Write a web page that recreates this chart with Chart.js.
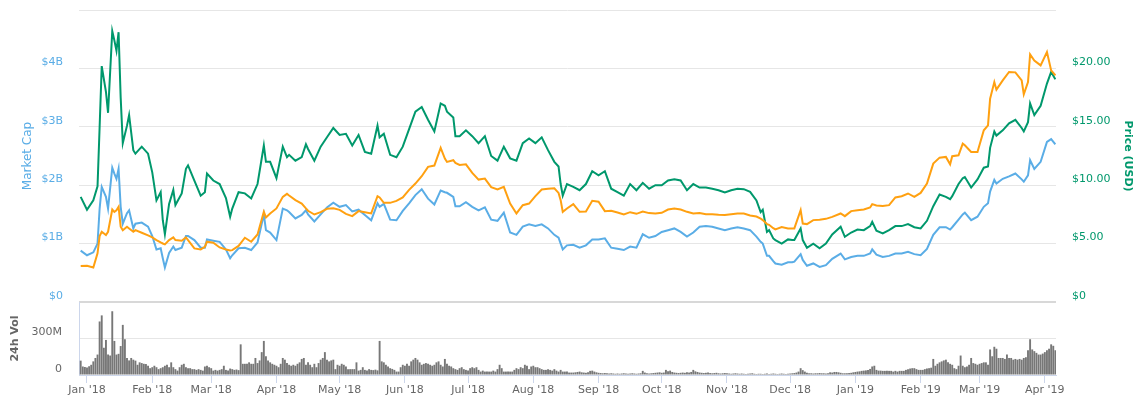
<!DOCTYPE html>
<html><head><meta charset="utf-8">
<script src="https://cdn.jsdelivr.net/npm/chart.js@4.4.1/dist/chart.umd.min.js"></script>
<style>
html,body{margin:0;padding:0;background:#fff;width:1142px;height:405px;overflow:hidden;}
#top{position:absolute;left:0;top:0;}
#vol{position:absolute;left:0;top:292px;}
</style></head><body>
<canvas id="top" width="1142" height="310"></canvas>
<canvas id="vol" width="1142" height="113"></canvas>
<script>
// Day 0 = 1 Jan 2018
const monthLabels = ["Jan '18","Feb '18","Mar '18","Apr '18","May '18","Jun '18","Jul '18","Aug '18","Sep '18","Oct '18","Nov '18","Dec '18","Jan '19","Feb '19","Mar '19","Apr '19"];

const days = [-3,0,3,5,6,7,9,10,12,13,14,15,16,17,19,20,22,23,26,29,31,33,35,36,37,39,41,42,45,47,48,51,54,56,57,60,63,66,68,69,72,
75,78,81,84,85,87,90,93,95,96,99,102,104,105,108,111,114,117,120,123,126,129,132,135,138,139,141,144,147,150,
153,156,159,162,165,168,170,171,174,175,177,180,183,186,189,192,195,198,201,204,207,210,213,216,219,222,224,225,226,
228,231,234,237,240,243,246,249,252,255,258,261,264,267,270,273,276,279,282,285,288,291,294,297,300,303,
306,309,312,315,318,320,321,323,324,326,327,330,333,335,336,339,340,342,345,348,351,354,358,360,363,366,369,372,373,375,378,381,
384,387,390,393,396,399,402,405,408,410,411,414,416,417,420,423,426,428,429,431,432,435,438,441,444,445,447,448,450,453,456,458,460];

// Market cap, billions USD
const marketCapB = [0.88,0.80,0.85,1.00,1.60,1.97,1.80,1.60,2.30,2.20,2.11,2.28,1.63,1.34,1.52,1.57,1.26,1.34,1.36,1.29,1.13,0.90,0.92,0.75,0.59,0.84,0.95,0.89,0.93,1.13,1.13,1.06,0.93,0.93,1.07,1.05,1.03,0.90,0.75,0.80,0.92,
0.93,0.89,1.02,1.50,1.23,1.19,1.06,1.60,1.57,1.54,1.43,1.49,1.57,1.50,1.38,1.50,1.62,1.70,1.63,1.66,1.55,1.58,1.49,1.40,1.69,1.63,1.68,1.41,1.40,1.56,
1.69,1.83,1.93,1.77,1.67,1.91,1.88,1.87,1.80,1.64,1.64,1.71,1.63,1.57,1.62,1.41,1.39,1.53,1.19,1.15,1.29,1.33,1.30,1.33,1.26,1.15,1.10,1.00,0.90,
0.97,0.98,0.93,0.97,1.07,1.07,1.09,0.93,0.91,0.89,0.95,0.93,1.16,1.10,1.13,1.20,1.23,1.26,1.20,1.12,1.19,1.29,1.30,1.29,1.26,1.23,
1.26,1.28,1.26,1.23,1.12,1.03,1.00,0.79,0.79,0.70,0.66,0.64,0.68,0.68,0.69,0.82,0.72,0.62,0.66,0.60,0.63,0.74,0.83,0.73,0.77,0.79,0.79,0.83,0.90,0.81,0.77,0.79,
0.83,0.83,0.86,0.82,0.80,0.91,1.15,1.28,1.28,1.24,1.28,1.41,1.50,1.53,1.40,1.46,1.63,1.69,1.89,2.09,2.03,2.11,2.15,2.20,2.10,2.06,2.17,2.43,2.28,2.40,2.74,2.79,2.70];

// Price, USD
const priceUsd = [9.0,7.9,8.7,9.9,15.0,20.2,18.0,16.2,23.2,22.4,21.5,23.1,17.5,13.6,15.1,16.0,13.0,12.7,13.3,12.7,11.1,8.7,9.4,7.0,5.8,8.4,9.6,8.3,9.3,11.4,11.7,10.4,9.1,9.4,11.0,10.4,10.1,8.9,7.3,8.0,9.4,
9.3,8.86,10.1,13.4,12.0,12.0,10.6,13.3,12.4,12.6,12.1,12.4,13.5,13.1,12.1,13.3,14.1,14.9,14.3,14.4,13.4,14.3,12.85,12.7,15.1,14.1,14.4,12.6,12.4,13.3,
14.8,16.3,16.7,15.6,14.6,17.0,16.8,16.3,15.8,14.2,14.2,14.7,14.2,13.6,14.2,12.5,12.1,13.3,12.3,12.1,13.6,14.0,13.6,14.1,13.0,12.0,11.6,10.1,9.1,
10.1,9.86,9.57,10.1,11.2,10.85,11.2,9.7,9.4,9.1,10.1,9.57,10.2,9.7,10.0,10.0,10.4,10.5,10.4,9.57,10.1,9.8,9.8,9.7,9.57,9.37,
9.57,9.7,9.66,9.43,8.7,7.7,7.9,6.0,6.15,5.44,5.3,5.0,5.36,5.3,5.3,6.3,5.3,4.64,5.0,4.6,5.0,5.78,6.44,5.58,5.95,6.2,6.15,6.5,6.87,6.1,5.87,6.15,
6.5,6.5,6.67,6.4,6.3,6.95,8.2,9.2,9.0,8.8,9.06,10.1,10.6,10.7,9.8,10.5,11.5,11.6,13.2,14.6,14.25,14.7,15.3,15.6,14.9,14.6,15.4,17.0,16.0,16.8,18.7,19.7,19.06];

// Price, BTC
const priceBtc = [0.000616,0.000622,0.000592,0.000832,0.001128,0.001202,0.001146,0.001202,0.001584,0.001544,0.001572,0.00163,0.001288,0.00123,0.001288,0.00126,0.001202,0.00123,0.001186,0.00114,0.001106,0.00106,0.00102,0.001002,0.000986,0.00106,0.001106,0.00106,0.001048,0.001106,0.00106,0.000918,0.0009,0.000946,0.001032,0.001014,0.000934,0.0009,0.000884,0.000888,0.00096,
0.0011,0.001032,0.001156,0.001544,0.001448,0.001516,0.001602,0.0018,0.001852,0.001824,0.001744,0.001686,0.001602,0.001562,0.001498,0.001538,0.001596,0.001606,0.001578,0.00151,0.00147,0.001556,0.001538,0.001516,0.001812,0.00179,0.001698,0.001698,0.001732,0.00179,
0.00192,0.002028,0.002154,0.002314,0.002336,0.002638,0.002456,0.002398,0.002428,0.002382,0.002348,0.002358,0.00221,0.002096,0.002114,0.001966,0.001926,0.001972,0.001686,0.001516,0.001658,0.001686,0.001812,0.001926,0.001938,0.001948,0.001868,0.001744,0.001544,
0.001602,0.001676,0.001544,0.00155,0.001732,0.001716,0.001556,0.001562,0.001532,0.001498,0.001538,0.00151,0.00155,0.001522,0.001516,0.001528,0.001584,0.001602,0.001584,0.001544,0.001516,0.001522,0.001504,0.001504,0.001492,0.001488,
0.001504,0.001516,0.001516,0.001482,0.001464,0.00143,0.001402,0.001334,0.001322,0.001264,0.001242,0.001282,0.00126,0.00126,0.00126,0.001572,0.001344,0.001334,0.001402,0.001408,0.001424,0.001458,0.001516,0.00147,0.001556,0.001572,0.001584,0.001618,0.001676,0.001652,0.001642,0.001658,
0.00179,0.001812,0.001858,0.0018,0.001868,0.002028,0.00237,0.002472,0.002484,0.002358,0.002496,0.002512,0.002712,0.002684,0.00257,0.00257,0.00294,0.003026,0.003482,0.003766,0.003636,0.003794,0.003938,0.003932,0.003794,0.003556,0.003766,0.00424,0.004136,0.004052,0.00428,0.003966,0.00388];

// 24h volume, millions USD, daily; each block starts at the day given in volStarts
const volStarts = [-3, 19, 73, 85, 139, 149, 231, 320, 366];
const volA = [118,70,66,62,72,84,112,140,168,440,490,224,288,168,160,524,280,168,174,238,412,294];
const volB = [140,120,140,126,118,84,104,98,92,90,76,56,64,76,64,48,56,64,76,84,64,104,64,48,36,64,84,92,64,56,56,48,48,42,48,42,36,70,76,64,56,36,42,36,42,48,76,42,36,53,48,42,45,40];
const volC = [252,92,92,92,104,92,92,140,98,120,188,280];
const volD = [154,120,104,92,84,76,64,92,140,126,98,84,76,84,76,92,104,132,140,84,104,84,64,92,64,98,126,140,188,126,112,120,126,48,84,76,92,84,70,48,48,48,48,104,36,42,64,42,36,48,42,40,44,38];
const volE = [280,112,104,84,70,56,50,42,28,28];
const volF = [64,84,76,92,76,112,126,140,126,104,84,92,98,92,84,76,84,104,112,84,70,132,92,76,70,56,48,42,56,64,48,42,36,56,64,56,64,42,28,36,28,28,28,28,36,28,48,84,56,28,28,28,28,28,42,56,48,64,56,84,76,48,70,76,64,64,56,48,42,42,48,42,36,48,36,28,42,28,28,28,20,20];
const volG = [20,22,25,28,22,20,18,22,34,36,28,22,18,16,14,16,14,12,14,12,10,12,10,12,14,12,10,12,14,12,10,12,14,34,20,14,12,14,16,18,20,22,18,20,42,30,36,25,20,18,16,18,20,18,22,20,25,42,30,25,20,18,16,18,20,16,14,16,18,14,12,14,16,14,12,10,12,14,12,10,12,10,8,10,12,14,10,8,10];
const volH = [10,8,10,12,8,10,12,10,8,10,12,10,8,10,12,14,16,20,28,56,40,28,18,14,14,12,14,14,16,14,14,12,14,22,20,25,25,22,18,14,14,14,16,18,22,25];
const volI = [28,30,34,36,38,42,50,70,76,42,36,36,34,34,34,34,34,28,34,28,34,34,34,42,48,53,56,56,48,42,42,42,48,53,56,60,132,76,92,104,112,120,126,104,92,84,56,48,76,160,76,64,70,84,140,98,92,84,92,98,104,104,84,210,154,232,216,140,140,140,132,168,140,140,126,132,126,132,126,140,146,204,294,210,196,182,168,168,176,188,204,216,252,240,204];
const volBlocks = [volA, volB, volC, volD, volE, volF, volG, volH, volI];

// ---- build chart data ----
const DAY0 = Date.UTC(2018, 0, 1);
const monthDays = monthLabels.map((_, i) => (Date.UTC(2018, i, 1) - DAY0) / 86400000);
const X_MIN = -3.8, X_MAX = 460.3;
const FONT = 'DejaVu Sans';
const C_BLUE = '#5aade6', C_GREEN = '#00986c', C_ORANGE = '#ffa010', GRID = '#e6e6e6', AXIS = '#ccd6eb';

const pts = arr => days.map((d, i) => ({x: d, y: arr[i]}));
const volPoints = [];
volBlocks.forEach((blk, b) => blk.forEach((v, i) => volPoints.push({x: volStarts[b] + i, y: v})));

const lineDs = (label, arr, axis, color, order) => ({
  label, data: pts(arr), yAxisID: axis, borderColor: color, backgroundColor: color,
  borderWidth: 2, pointRadius: 0, tension: 0, fill: false, order
});
const fixWidth = w => s => { s.width = w; s.paddingTop = 0; s.paddingBottom = 0; };

new Chart(document.getElementById('top'), {
  type: 'line',
  data: {datasets: [
    lineDs('Market Cap', marketCapB, 'yCap', C_BLUE, 2),
    lineDs('Price (USD)', priceUsd, 'yUsd', C_GREEN, 1),
    lineDs('Price (BTC)', priceBtc, 'yBtc', C_ORANGE, 0)
  ]},
  options: {
    responsive: false, animation: false, events: [],
    layout: {padding: {top: 10, bottom: 8, left: 0, right: 0}},
    plugins: {legend: {display: false}, tooltip: {enabled: false}},
    scales: {
      x: {type: 'linear', display: false, min: X_MIN, max: X_MAX},
      yCap: {
        position: 'left', min: 0, max: 5,
        afterFit: fixWidth(79),
        ticks: {stepSize: 1, padding: 16, labelOffset: -6, color: C_BLUE, font: {family: FONT, size: 11},
                callback: v => v === 0 ? '$0' : (v === 5 ? '' : '$' + v + 'B')},
        grid: {color: c => c.tick && c.tick.value === 0 ? '#d8d8d8' : GRID,
               lineWidth: c => c.tick && c.tick.value === 0 ? 2 : 1, drawTicks: false},
        border: {display: false},
        title: {display: true, text: 'Market Cap', color: C_BLUE, font: {family: FONT, size: 12}, padding: {top: 21, bottom: 0}}
      },
      yUsd: {
        position: 'right', min: 0, max: 25,
        afterFit: fixWidth(86),
        ticks: {stepSize: 5, padding: 16, labelOffset: -6, color: C_GREEN, font: {family: FONT, size: 11},
                callback: v => v === 0 ? '$0' : (v === 25 ? '' : '$' + v.toFixed(2))},
        grid: {display: false, drawTicks: false},
        border: {display: false},
        title: {display: true, text: 'Price (USD)', color: C_GREEN, font: {family: FONT, size: 11, weight: 'bold'}, padding: {top: 8, bottom: 0}}
      },
      yBtc: {display: false, min: 0, max: 0.005}
    }
  }
});

new Chart(document.getElementById('vol'), {
  type: 'bar',
  data: {datasets: [{label: '24h Vol', data: volPoints, yAxisID: 'yVol', backgroundColor: '#777777',
                     barPercentage: 0.9, categoryPercentage: 1}]},
  options: {
    responsive: false, animation: false, events: [],
    layout: {padding: {top: 10, bottom: 0, left: 0, right: 86}},
    plugins: {legend: {display: false}, tooltip: {enabled: false}},
    scales: {
      x: {
        type: 'linear', min: X_MIN, max: X_MAX, offset: false,
        afterFit: s => { s.height = 30; },
        afterBuildTicks: s => { s.ticks = monthDays.map(v => ({value: v})); },
        ticks: {autoSkip: false, maxRotation: 0, padding: 1, color: '#666666', font: {family: FONT, size: 11},
                callback: (v, i) => monthLabels[i]},
        grid: {offset: false, drawOnChartArea: false, drawTicks: true, tickLength: 8, color: AXIS},
        border: {display: true, color: AXIS}
      },
      yVol: {
        position: 'left', min: 0, max: 600,
        afterFit: fixWidth(79),
        ticks: {stepSize: 300, padding: 17, labelOffset: -6, color: '#666666', font: {family: FONT, size: 11},
                callback: v => v === 0 ? '0' : (v === 600 ? '' : v + 'M')},
        grid: {color: c => !c.tick ? GRID : (c.tick.value === 600 ? '#d8d8d8' : (c.tick.value === 0 ? 'rgba(0,0,0,0)' : GRID)),
               lineWidth: c => c.tick && c.tick.value === 600 ? 2 : 1, drawTicks: false},
        border: {display: true, color: AXIS},
        title: {display: true, text: '24h Vol', color: '#666666', font: {family: FONT, size: 11, weight: 'bold'}, padding: {top: 9, bottom: 0}}
      }
    }
  }
});
</script>
</body></html>
